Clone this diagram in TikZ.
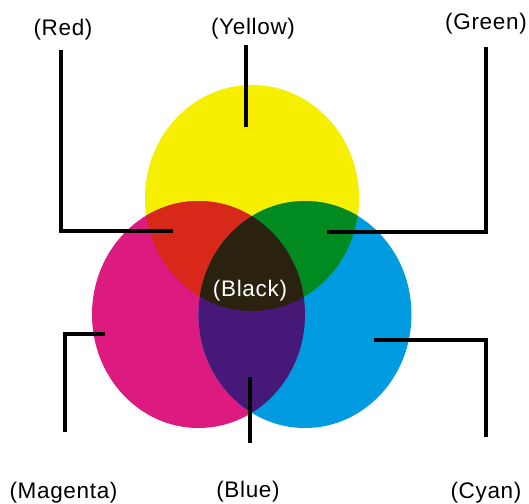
\documentclass[tikz,border=0pt]{standalone}
\usepackage{fontspec}
\setmainfont{Liberation Sans}[LetterSpace=3]
\definecolor{cY}{RGB}{246,240,0}
\definecolor{cM}{RGB}{220,26,128}
\definecolor{cC}{RGB}{0,155,224}
\definecolor{cR}{RGB}{216,40,26}
\definecolor{cG}{RGB}{0,138,32}
\definecolor{cB}{RGB}{70,24,120}
\definecolor{cK}{RGB}{42,34,14}
\tikzset{
  lbl/.style={font=\fontsize{22.5}{26}\selectfont, text=black, inner sep=0pt},
  conn/.style={line width=3.2pt, line cap=rect, black},
}
\begin{document}
\begin{tikzpicture}[x=1pt,y=-1pt]
\useasboundingbox (0,0) rectangle (529,503);
\fill[white] (0,0) rectangle (529,503);
\def\Ypath{(252,198) ellipse [x radius=107pt, y radius=113pt]}
\def\Mpath{(198.5,314.5) ellipse [x radius=106.5pt, y radius=113.5pt]}
\def\Cpath{(305,314.5) ellipse [x radius=106.5pt, y radius=113.5pt]}
\fill[cY] \Ypath;
\fill[cM] \Mpath;
\fill[cC] \Cpath;
\begin{scope}
  \clip \Ypath;
  \fill[cR] \Mpath;
  \fill[cG] \Cpath;
\end{scope}
\begin{scope}
  \clip \Mpath;
  \fill[cB] \Cpath;
\end{scope}
\begin{scope}
  \clip \Ypath;
  \clip \Mpath;
  \fill[cK] \Cpath;
\end{scope}

% labels
\node[lbl] (red) at (63,30) {(Red)};
\node[lbl] (yellow) at (253,29) {(Yellow)};
\node[lbl] (green) at (486,24) {(Green)};
\node[lbl] (magenta) at (63.5,493) {(Magenta)};
\node[lbl] (blue) at (248,492) {(Blue)};
\node[lbl] (cyan) at (486,493) {(Cyan)};
\node[lbl, text=white] (black) at (250,291) {(Black)};

% connector end points
\coordinate (r1) at (61,52);
\coordinate (r2) at (61,231);
\coordinate (r3) at (171,231);
\coordinate (y1) at (246,47);
\coordinate (y2) at (246,125);
\coordinate (g1) at (486,49);
\coordinate (g2) at (486,232);
\coordinate (g3) at (329,232);
\coordinate (m1) at (65,430);
\coordinate (m2) at (65,334);
\coordinate (m3) at (103,334);
\coordinate (b1) at (250,379);
\coordinate (b2) at (250,441);
\coordinate (c1) at (486,435);
\coordinate (c2) at (486,340);
\coordinate (c3) at (376,340);

\draw[conn] (r1) -- (r2) -- (r3);
\draw[conn] (y1) -- (y2);
\draw[conn] (g1) -- (g2) -- (g3);
\draw[conn] (m1) -- (m2) -- (m3);
\draw[conn] (b1) -- (b2);
\draw[conn] (c1) -- (c2) -- (c3);
\end{tikzpicture}
\end{document}
